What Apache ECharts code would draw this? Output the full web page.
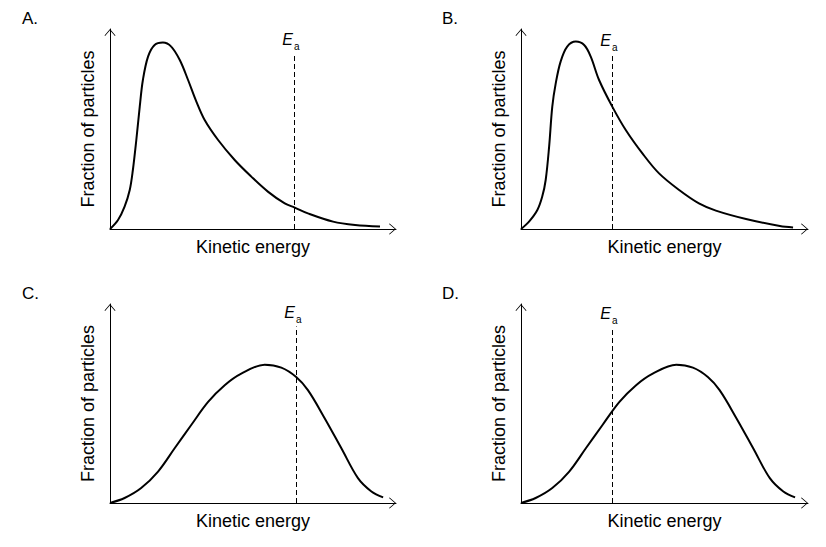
<!DOCTYPE html>
<html>
<head>
<meta charset="utf-8">
<title>Kinetic energy distributions</title>
<script src="https://cdn.jsdelivr.net/npm/echarts@6/dist/echarts.min.js"></script>
<style>
  html, body { margin: 0; padding: 0; background: #fff; }
  #chart { width: 826px; height: 547px; }
</style>
</head>
<body>
<div id="chart"></div>
<script>
// panel letters and axis titles
const panelLabels = ['A.', 'B.', 'C.', 'D.'];
const xAxisTitle = 'Kinetic energy';
const yAxisTitle = 'Fraction of particles';

// curves as [energy, fraction], both axes run 0-100
const curveA = [
	[0, 0], [2.8, 4.5], [5.1, 11.2], [6.9, 19.5], [8.0, 29.5], [9.2, 44.5], [10.4, 61.2],
	[11.5, 74.5], [13.3, 86.2], [15.6, 92], [18.5, 93.2], [21.4, 91.2], [24.4, 84.5],
	[27.3, 74.5], [30.2, 63.7], [33.1, 54.5], [37.8, 44.5], [43.6, 34.5], [49.4, 26.2],
	[55.2, 18.7], [61.1, 12.8], [64.6, 10.7], [69.2, 7.8], [78.0, 3.7], [85.7, 2.0], [94.4, 1.2]
];
const curveB = [
	[0, 0], [2.8, 3.7], [5.7, 9.5], [7.4, 16.2], [8.6, 24.5], [9.8, 41.2], [10.9, 61.2],
	[12.1, 72.8], [13.8, 83.7], [16.1, 91.2], [19.1, 93.7], [22.0, 92], [24.3, 86.2],
	[27.2, 74.5], [31.8, 61.2], [36.5, 49.5], [42.3, 37.8], [48.1, 27.8], [55.1, 19.5],
	[62.0, 12.8], [67.9, 9.2], [78.4, 5.0], [90.2, 1.5], [94.8, 0.8]
];
// C and D show the same distribution
const curveBell = [
	[0, 0], [5.1, 2.5], [10.9, 7.5], [16.8, 15.8], [22.6, 27.5], [28.4, 39.2], [34.3, 50.8],
	[40.1, 59.2], [45.9, 65], [54.1, 69.5], [59.9, 68], [65.1, 63.3], [69.2, 56.7],
	[75.1, 42.5], [80.9, 27.5], [86.7, 12.5], [91.4, 5.8], [95.5, 2.8]
];

// activation energy for each panel and the top of its dashed marker
const eaX = [64.3, 31.7, 65.0, 31.7];
const eaTop = [88, 87.5, 88.7, 88.4];

const curves = [curveA, curveB, curveBell, curveBell];

const grids = [
	{ left: 110, top: 29, width: 286, height: 200 },
	{ left: 521, top: 29, width: 287, height: 200 },
	{ left: 110, top: 304, width: 286, height: 199 },
	{ left: 521, top: 304, width: 287, height: 199 }
];
const titlePos = [[22, 10], [442, 10], [22, 285], [442, 285]];

// open chevron, pointing up in symbol space
const arrow = 'path://M55,0L110,64L104,70L55,12L6,70L0,64Z';

function axisLine() {
	return {
		show: true,
		symbol: ['none', arrow],
		symbolSize: [11, 7],
		symbolOffset: [0, -3.5],
		lineStyle: { color: '#000', width: 1 }
	};
}

function buildOption() {
	const option = {
		animation: false,
		backgroundColor: '#fff',
		textStyle: { fontFamily: 'Liberation Sans, Arial, sans-serif', color: '#000' },
		title: [], grid: [], xAxis: [], yAxis: [], series: []
	};

	curves.forEach(function (curve, i) {
		option.title.push({
			text: panelLabels[i],
			left: titlePos[i][0],
			top: titlePos[i][1],
			padding: 0,
			textStyle: { fontSize: 17, fontWeight: 'normal', color: '#000' }
		});
		option.grid.push(grids[i]);
		option.xAxis.push({
			type: 'value', gridIndex: i, min: 0, max: 100,
			name: xAxisTitle, nameLocation: 'middle', nameGap: 9,
			nameTextStyle: { fontSize: 18, color: '#000' },
			axisLine: axisLine(),
			axisTick: { show: false }, axisLabel: { show: false }, splitLine: { show: false }
		});
		option.yAxis.push({
			type: 'value', gridIndex: i, min: 0, max: 100,
			name: yAxisTitle, nameLocation: 'middle', nameGap: 13,
			nameTextStyle: { fontSize: 18, color: '#000' },
			axisLine: axisLine(),
			axisTick: { show: false }, axisLabel: { show: false }, splitLine: { show: false }
		});
		option.series.push({
			type: 'line',
			xAxisIndex: i,
			yAxisIndex: i,
			data: curve,
			smooth: 0.35,
			symbol: 'none',
			silent: true,
			lineStyle: { color: '#000', width: 2 },
			markLine: {
				silent: true,
				symbol: ['none', 'none'],
				lineStyle: { color: '#000', width: 1, type: [5, 3] },
				label: {
					position: 'end',
					distance: 2,
					padding: [0, 6, 0, 0],
					formatter: '{e|E}{s|a}',
					rich: {
						e: { fontSize: 16, fontStyle: 'italic', color: '#000', fontFamily: 'Liberation Sans' },
						s: { fontSize: 10, color: '#000', padding: [13, 0, 0, 1], fontFamily: 'Liberation Sans' }
					}
				},
				data: [[{ coord: [eaX[i], 0] }, { coord: [eaX[i], eaTop[i]] }]]
			}
		});
	});
	return option;
}

const chart = echarts.init(document.getElementById('chart'), null, { renderer: 'svg' });
chart.setOption(buildOption());
window.addEventListener('resize', () => chart.resize());
</script>
</body>
</html>
